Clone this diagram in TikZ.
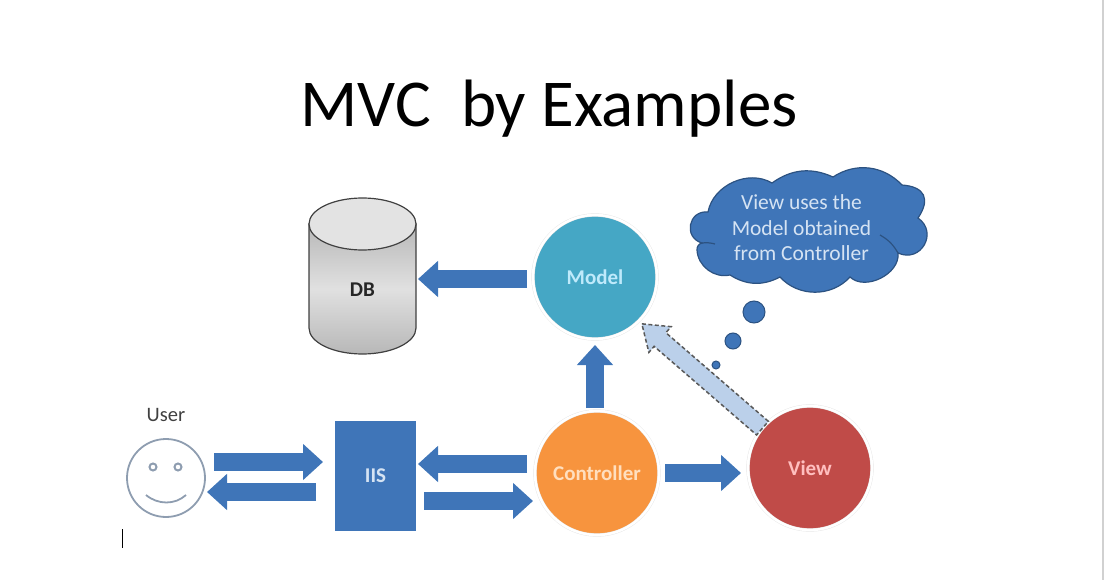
\documentclass[tikz,border=0pt]{standalone}
\usepackage{fontspec}
\setmainfont{Carlito}
\usepackage{xcolor}
\usetikzlibrary{arrows.meta,calc}
\definecolor{blockblue}{HTML}{3F75B8}
\definecolor{labelblue}{HTML}{D5E3F3}
\definecolor{faceline}{HTML}{8E9DB0}
\tikzset{
    blockarrow/.style={draw=blockblue, line width=18pt, -{Triangle[length=20pt,width=35pt]}},
    ball/.style={circle, draw=black!10, double=white, double distance=2.5pt, minimum size=124pt, inner sep=0pt, outer sep=0pt,
        font=\bfseries\fontsize{21}{23}\selectfont, text=#1!25!white},
    thought/.style={circle, fill=blockblue, draw=blockblue!70!black, line width=1pt, inner sep=0pt, outer sep=0pt}
}
\begin{document}
\begin{tikzpicture}[x=1pt,y=-1pt]
        \useasboundingbox (0,0) rectangle (1104,580);
        % window edge and text cursor
        \fill[black!18] (1102,0) rectangle (1104,580);
        \draw[black, line width=1pt] (122,529) -- (122,548);
        \node (title) at (549,109) {\fontsize{67}{74}\selectfont MVC\ \ by Examples};
        % user
        \node[circle, draw=faceline, line width=1.8pt, minimum size=78pt, inner sep=0pt, outer sep=0pt] (user) at (166,478) {};
        \node[text=black!75, font=\fontsize{20.5}{22}\selectfont] (userlabel) at (166,415) {User};
        \foreach \x in {153,178} {
            \draw[faceline, line width=2pt] (\x,467) circle (3.5pt);
        }
        \draw[faceline, line width=1.8pt] (146,495) .. controls (158,505) and (175,505) .. (186,495);
        % iis and database
        \node[rectangle, fill=blockblue, minimum width=81pt, minimum height=110pt, inner sep=0pt, outer sep=0pt,
            text=labelblue, font=\bfseries\fontsize{21}{23}\selectfont] (iis) at (375.5,476) {IIS};
        \draw[draw=black!75, line width=1.2pt, top color=black!28, bottom color=black!28, middle color=black!12]
            (309,224) -- (309,328) arc (180:360:53.5pt and 26pt) -- (416,224) -- cycle;
        \draw[draw=black!75, line width=1.2pt, fill=black!11] (362.5,224) ellipse (53.5pt and 26pt);
        \node[minimum width=107pt, minimum height=156pt, inner sep=0pt, outer sep=0pt] (db) at (362.5,276) {};
        \node[font=\bfseries\fontsize{21}{23}\selectfont, text=black!85] (dblabel) at (362.5,290) {DB};
        % mvc balls
        \node[ball=cyan, fill={rgb,255:red,69;green,167;blue,197}] (model) at (595,277) {Model};
        \node[ball=orange, fill={rgb,255:red,247;green,148;blue,62}] (controller) at (597,473) {Controller};
        \node[ball=red, fill={rgb,255:red,192;green,75;blue,72}] (view) at (810,468) {View};
        % solid arrows
        \draw[blockarrow, shorten <=9pt, shorten >=12pt] ([yshift=16pt]user.east) -- ([yshift=14pt]iis.west);
        \draw[blockarrow, shorten <=19pt, shorten >=2pt] ([yshift=-16pt]iis.west) -- ([yshift=-14pt]user.east);
        \draw[blockarrow, shorten <=8pt, shorten >=2pt] ([yshift=9pt]controller.west) -- ([yshift=12pt]iis.east);
        \draw[blockarrow, shorten <=8pt, shorten >=2pt] ([yshift=-25pt]iis.east) -- ([yshift=-28pt]controller.west);
        \draw[blockarrow, shorten <=6pt, shorten >=2pt] ([yshift=-2pt]model.west) -- ([yshift=-3pt]db.east);
        \draw[blockarrow, shorten <=3pt, shorten >=6pt] ([xshift=-2pt]controller.north) -- (model.south);
        \draw[blockarrow, shorten <=6pt, shorten >=7pt] (controller.east) -- ([yshift=-5pt]view.west);
        % dashed arrow from view to model
        \coordinate (tip) at ([shift={(3pt,-3pt)}]model.-45);
        \coordinate (tail) at (view.140);
        \draw[draw=black!65, fill={rgb,255:red,187;green,208;blue,234}, line width=1.5pt, dash pattern=on 4pt off 2.5pt]
            (tip) -- ($(tip)!24pt!(tail)!17pt!90:(tail)$) -- ($(tip)!24pt!(tail)!9pt!90:(tail)$)
            -- ($(tail)!9pt!-90:(tip)$) -- ($(tail)!9pt!90:(tip)$)
            -- ($(tip)!24pt!(tail)!9pt!-90:(tail)$) -- ($(tip)!24pt!(tail)!17pt!-90:(tail)$) -- cycle;
        % cloud
        \draw[fill=blockblue, draw=blockblue!70!black, line width=1.2pt]
            (708,212) to[bend left=55] (772,183) to[bend left=30] (833,177) to[bend left=40] (902,185)
            to[bend left=60, looseness=1.6] (918,218) to[bend left=85, looseness=1.6] (898,253) to[bend left=70] (850,277)
            to[bend left=48] (780,277) to[bend left=30] (730,275) to[bend left=50] (697,250)
            to[bend left=40] (702,243) to[bend left=85, looseness=1.6] cycle;
        \draw[draw=blockblue!70!black, line width=1.2pt] (880,235) to[bend left=15] (898,253);
        \draw[draw=blockblue!70!black, line width=1.2pt] (702,243) to[bend left=10] (715,244);
        \node[inner sep=0pt, align=center, text=labelblue, font=\fontsize{21.5}{25.5}\selectfont] (cloudnote) at (801.5,228)
            {View uses the\\Model obtained\\from Controller};
        \foreach \x/\y/\d/\n in {754/312/22/a, 733/341/16/b, 716/365/8/c} {
            \node[thought, minimum size=\d pt] (thought\n) at (\x,\y) {};
        }
    \end{tikzpicture}
\end{document}
